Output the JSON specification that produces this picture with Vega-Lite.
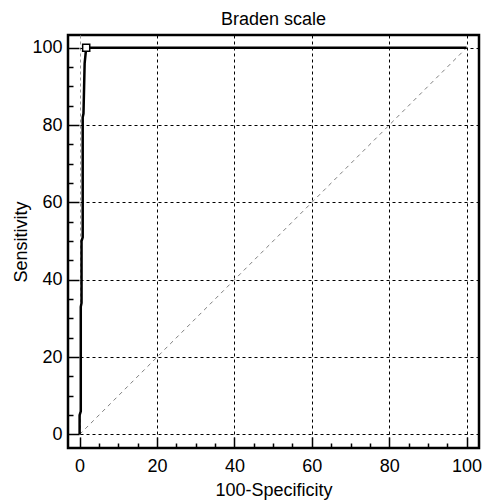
{
  "$schema": "https://vega.github.io/schema/vega-lite/v6.json",
  "width": 411,
  "height": 413,
  "autosize": "none",
  "padding": {"left": 68, "top": 35, "right": 6, "bottom": 53},
  "background": "white",
  "title": {"text": "Braden scale", "font": "Liberation Sans", "fontSize": 18, "fontWeight": "normal", "color": "black", "offset": 6},
  "datasets": {
    "diag": [{"fpr": 0, "sens": 0}, {"fpr": 100, "sens": 100}],
    "roc": [
      {"fpr": 0, "sens": 0},
      {"fpr": 0, "sens": 5},
      {"fpr": 0.3, "sens": 6},
      {"fpr": 0.3, "sens": 33},
      {"fpr": 0.5, "sens": 34},
      {"fpr": 0.5, "sens": 50},
      {"fpr": 0.8, "sens": 51},
      {"fpr": 0.8, "sens": 82},
      {"fpr": 1.0, "sens": 83},
      {"fpr": 1.3, "sens": 96},
      {"fpr": 1.7, "sens": 100},
      {"fpr": 100, "sens": 100}
    ],
    "marker": [{"fpr": 1.7, "sens": 100}]
  },
  "config": {
    "view": {"stroke": "black", "strokeWidth": 2.5},
    "axis": {"labelFont": "Liberation Sans", "titleFont": "Liberation Sans", "labelFontSize": 18, "titleFontSize": 18, "titleFontWeight": "normal", "labelColor": "black", "titleColor": "black", "labelFlush": false}
  },
  "resolve": {"axis": {"x": "independent", "y": "independent"}},
  "layer": [
    {
      "data": {"name": "diag"},
      "mark": {"type": "line", "color": "#808080", "strokeWidth": 1, "strokeDash": [4, 4]},
      "encoding": {
        "x": {"field": "fpr", "type": "quantitative", "scale": {"domain": [-3, 103.2], "nice": false, "zero": false},
          "axis": {"orient": "bottom", "values": [0, 20, 40, 60, 80, 100], "ticks": false, "domain": false, "labelPadding": 9, "grid": true, "gridDash": [3, 3], "gridWidth": 1, "gridOpacity": 1,
            "gridColor": {"condition": {"test": "datum.value === 0", "value": "#999999"}, "value": "black"},
            "title": "100-Specificity", "titleX": 205.5, "titleY": 47, "titleBaseline": "alphabetic", "titleAnchor": "middle"}},
        "y": {"field": "sens", "type": "quantitative", "scale": {"domain": [-3.5, 103.3], "nice": false, "zero": false},
          "axis": {"orient": "left", "values": [0, 20, 40, 60, 80, 100], "ticks": false, "domain": false, "labelPadding": 6, "grid": true, "gridDash": [3, 3], "gridWidth": 1, "gridOpacity": 1, "gridColor": "black",
            "title": "Sensitivity", "titleX": -41.5, "titleY": 206.5, "titleBaseline": "alphabetic", "titleAngle": 270}}
      }
    },
    {
      "data": {"name": "roc"},
      "mark": {"type": "line", "color": "black", "strokeWidth": 2.5, "interpolate": "linear"},
      "encoding": {
        "x": {"field": "fpr", "type": "quantitative",
          "axis": {"orient": "bottom", "values": [0, 20, 40, 60, 80, 100], "labels": false, "domain": false, "grid": false, "tickSize": -11, "tickColor": "black", "tickWidth": 1.5, "title": null}},
        "y": {"field": "sens", "type": "quantitative",
          "axis": {"orient": "left", "values": [0, 20, 40, 60, 80, 100], "labels": false, "domain": false, "grid": false, "tickSize": -11, "tickColor": "black", "tickWidth": 1.5, "title": null}}
      }
    },
    {
      "data": {"name": "marker"},
      "mark": {"type": "point", "shape": "square", "size": 50, "filled": true, "fill": "white", "stroke": "black", "strokeWidth": 1.5, "opacity": 1},
      "encoding": {
        "x": {"field": "fpr", "type": "quantitative",
          "axis": {"orient": "bottom", "values": [5, 10, 15, 25, 30, 35, 45, 50, 55, 65, 70, 75, 85, 90, 95], "labels": false, "domain": false, "grid": false, "tickSize": -5, "tickColor": "black", "tickWidth": 1.5, "title": null}},
        "y": {"field": "sens", "type": "quantitative",
          "axis": {"orient": "left", "values": [5, 10, 15, 25, 30, 35, 45, 50, 55, 65, 70, 75, 85, 90, 95], "labels": false, "domain": false, "grid": false, "tickSize": -5, "tickColor": "black", "tickWidth": 1.5, "title": null}}
      }
    }
  ]
}
